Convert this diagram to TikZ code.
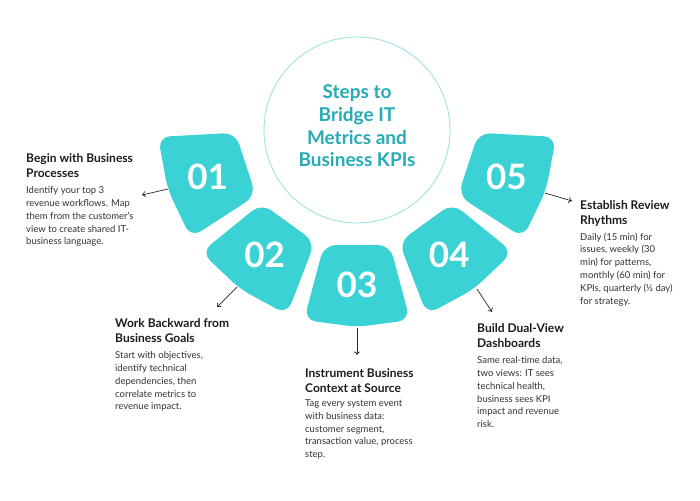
\documentclass[tikz,border=0pt]{standalone}
\usepackage{fontspec}
\setmainfont{Lato}
\usetikzlibrary{arrows.meta}
\definecolor{segteal}{RGB}{58,210,213}
\definecolor{titleteal}{RGB}{38,171,183}
\definecolor{ringteal}{RGB}{160,225,228}
\definecolor{inkdark}{RGB}{28,28,28}
\definecolor{inkbody}{RGB}{50,50,50}

\begin{document}
\begin{tikzpicture}[x=1pt, y=-1pt,
    seg/.style={fill=segteal, rounded corners=12pt},
    segnum/.style={font=\fontsize{35}{35}\selectfont\bfseries, text=white, inner sep=0pt},
    head/.style={font=\fontsize{12}{15}\selectfont\bfseries, text=inkdark, align=left,
                 anchor=north west, inner sep=0pt},
    blurb/.style={font=\fontsize{9.5}{12.8}\selectfont, text=inkbody, align=left,
                  anchor=north west, inner sep=0pt},
    pointer/.style={draw=black!85, line width=0.7pt, -{To[length=3.5pt,width=6pt]}}
]
    \useasboundingbox[fill=white] (0,0) rectangle (700,500);
    \coordinate (hubc) at (357,128);
    % five numbered segments round the hub
    \foreach \rot/\n in {-72/1,-36/2,0/3,36/4,72/5}{
        \begin{scope}[shift={(hubc)}, rotate=\rot]
            \fill[seg] (-33,117) -- (33,117) -- (53,192) -- (0,199) -- (-53,192) -- cycle;
            \node[segnum] (s\n) at (0,157) {0\n};
        \end{scope}
    }
    \node[circle, draw=ringteal, line width=0.9pt, fill=white, minimum size=186pt, inner sep=0pt] (hub) at (357,130) {};
    \node[font=\fontsize{19}{22.7}\selectfont\bfseries, text=titleteal, align=center] (title) at (357,126)
        {Steps to\\Bridge IT\\Metrics and\\Business KPIs};

    % step 01
    \node[head] (h1) at (26,153.5) {Begin with Business\\Processes};
    \node[blurb] (b1) at (26,186.5) {Identify your top 3\\revenue workflows. Map\\them from the customer’s\\view to create shared IT-\\business language.};
    % step 02
    \node[head] (h2) at (115,318.5) {Work Backward from\\Business Goals};
    \node[blurb] (b2) at (115,351.5) {Start with objectives,\\identify technical\\dependencies, then\\correlate metrics to\\revenue impact.};
    % step 03
    \node[head] (h3) at (305,368.5) {Instrument Business\\Context at Source};
    \node[blurb] (b3) at (305,399.5) {Tag every system event\\with business data:\\customer segment,\\transaction value, process\\step.};
    % step 04
    \node[head] (h4) at (477,323.5) {Build Dual-View\\Dashboards};
    \node[blurb] (b4) at (477,356.5) {Same real-time data,\\two views: IT sees\\technical health,\\business sees KPI\\impact and revenue\\risk.};
    % step 05
    \node[head] (h5) at (580,200.5) {Establish Review\\Rhythms};
    \node[blurb] (b5) at (580,232.5) {Daily (15 min) for\\issues, weekly (30\\min) for patterns,\\monthly (60 min) for\\KPIs, quarterly (½ day)\\for strategy.};

    % pointers
    \coordinate (p1) at (168,189); \coordinate (q1) at (142,195);
    \coordinate (p2) at (237,287); \coordinate (q2) at (217,307);
    \coordinate (p3) at (357,328); \coordinate (q3) at (357,355);
    \coordinate (p4) at (477,289); \coordinate (q4) at (492,312);
    \coordinate (p5) at (545,193); \coordinate (q5) at (572,201);
    \foreach \n in {1,...,5}{
        \draw[pointer] (p\n) -- (q\n);
    }
\end{tikzpicture}
\end{document}
